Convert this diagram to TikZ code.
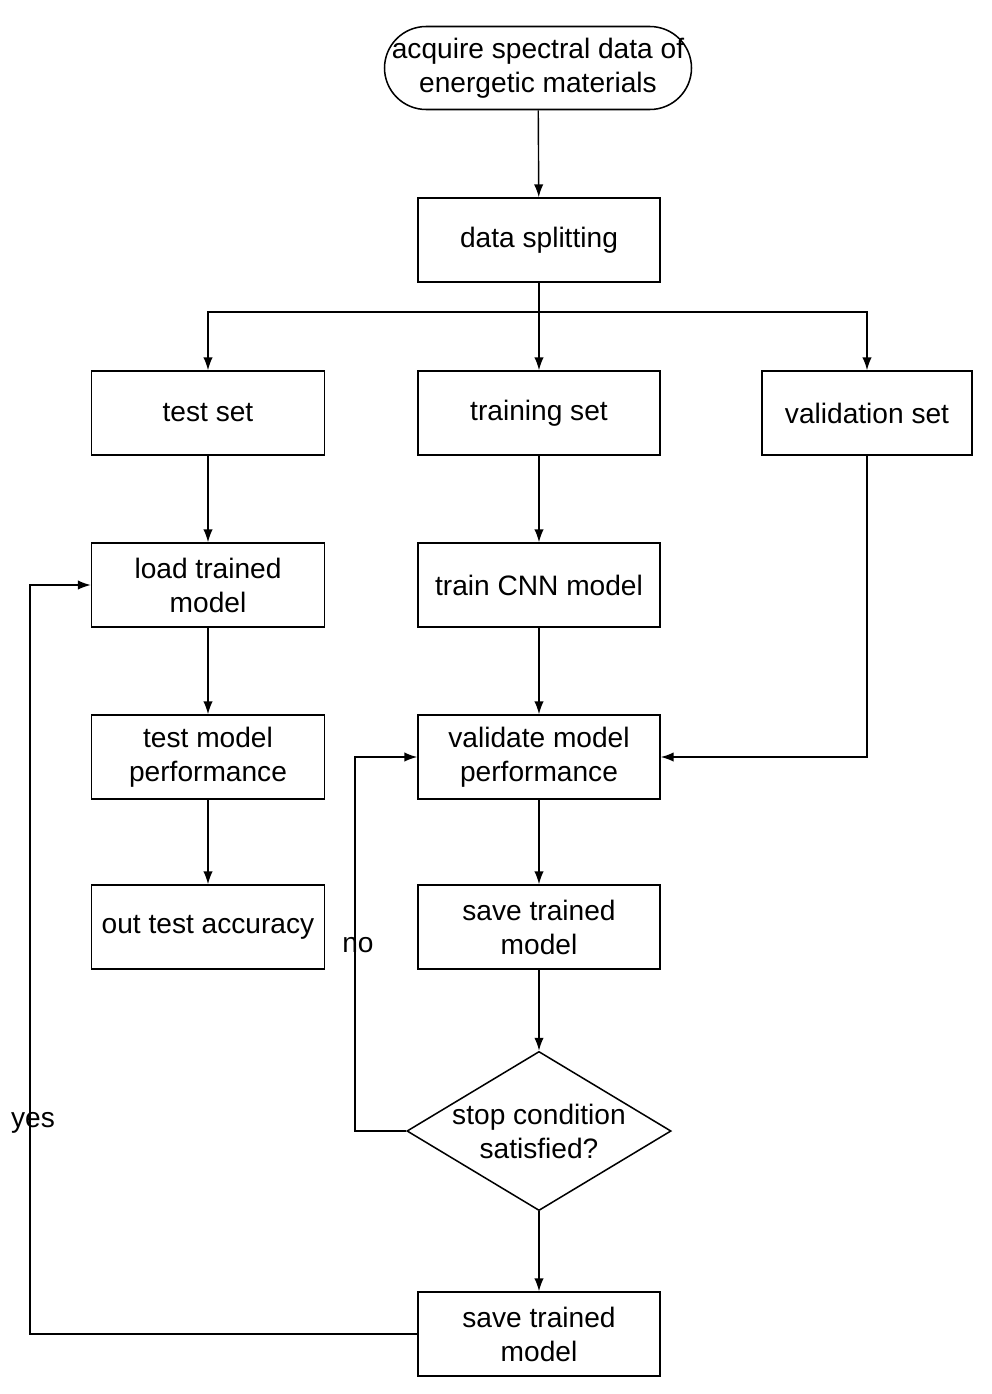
\documentclass[tikz,border=0pt]{standalone}
\usepackage{fontspec}
\setmainfont{Liberation Sans}
\usetikzlibrary{shapes.geometric,arrows.meta}
\begin{document}
\begin{tikzpicture}[x=0.03cm,y=-0.03cm,
  every node/.style={font=\fontsize{24}{29}\selectfont},
  box/.style={draw,line width=1.3pt,minimum width=7.26cm,minimum height=2.52cm,align=center,inner sep=0pt},
  arr/.style={line width=1.2pt,-{Latex[length=11pt,width=8pt]}},
  ln/.style={line width=1.2pt}]
\useasboundingbox (0,0) rectangle (992,1394);
\node[draw,line width=1.3pt,rounded corners=1.25cm,minimum width=9.21cm,minimum height=2.49cm,align=center,inner sep=0pt] (start) at (538,68) {acquire spectral data of\\energetic materials};
\node[box] (split) at (539,240) {data splitting};
\node[box,minimum width=6.99cm] (test) at (208,413) {test set};
\node[box] (train) at (539,413) {training set};
\node[box,minimum width=6.3cm] (val) at (867,413) {validation set};
\node[box,minimum width=6.99cm] (load) at (208,585) {load trained\\model};
\node[box] (cnn) at (539,585) {train CNN model};
\node[box,minimum width=6.99cm] (tmp) at (208,757) {test model\\performance};
\node[box] (vmp) at (539,757) {validate model\\performance};
\node[box,minimum width=6.99cm] (acc) at (208,927) {out test accuracy};
\node[box] (save) at (539,927) {save trained\\model};
\node[draw,line width=1.3pt,diamond,aspect=1.66,minimum width=7.26cm,minimum height=4.38cm,inner sep=0pt,align=center] (stop) at (539,1131) {stop condition\\satisfied?};
\node[box] (save2) at (539,1334) {save trained\\model};
\coordinate (b) at (539,312);
\draw[arr] (start) -- (split);
\draw[arr] (split) -- (train);
\draw[arr] (b) -| (test);
\draw[arr] (b) -| (val);
\draw[arr] (test) -- (load);
\draw[arr] (load) -- (tmp);
\draw[arr] (tmp) -- (acc);
\draw[arr] (train) -- (cnn);
\draw[arr] (cnn) -- (vmp);
\draw[arr] (vmp) -- (save);
\draw[arr] (save) -- (stop);
\draw[arr] (stop) -- (save2);
\draw[arr] (val.south) |- (vmp.east);
\coordinate (n1) at (355,1131);
\draw[arr] (stop.west) -- (n1) |- (vmp.west);
\coordinate (y1) at (30,1334);
\draw[arr] (save2.west) -- (y1) |- (load.west);
\node (no) at (358,945) {no};
\node (yes) at (33,1123) {yes};
\end{tikzpicture}
\end{document}
